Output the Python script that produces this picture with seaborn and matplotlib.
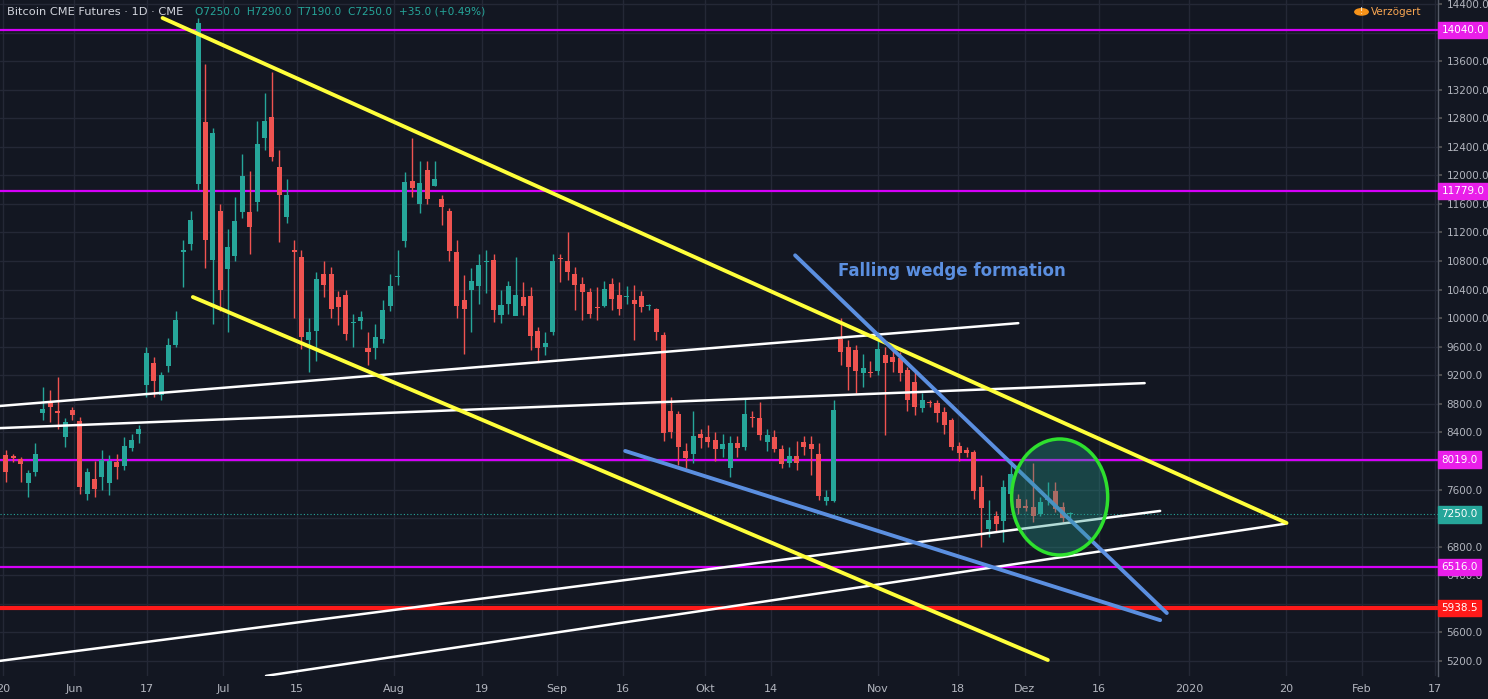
import numpy as np
import pandas as pd
import matplotlib
matplotlib.use("Agg")
import matplotlib.pyplot as plt
from matplotlib.patches import Ellipse
import seaborn as sns

# ---------------- data ----------------
opens = [8080,8070,8025,7690,7840,8670,8808,8700,8330,8710,8560,7535,7745,7770,7690,7985,7925,8180,8375,9060,
         9370,8920,9325,9620,10930,11045,11885,12750,10820,11505,10695,10875,11480,11480,11620,12530,12820,12120,11410,10950,
         10850,9700,9815,10625,10625,10290,10320,9930,9955,9575,9575,9715,10165,10580,11075,11925,11600,12080,11855,11675,
         11505,10920,10250,10400,10445,10780,10820,10040,10205,10025,10290,10305,9815,9590,9800,10840,10795,10625,10485,10360,
         10155,10165,10485,10330,10300,10260,10305,10165,10135,9760,8695,8655,8140,8095,8375,8335,8290,8165,7900,8250,
         8195,8615,8600,8265,8335,8165,7970,8070,8265,8235,8095,7440,7440,9705,9590,9550,9230,9245,9255,9480,
         9450,9435,9270,9100,8740,8815,8810,8685,8570,8210,8150,8125,7635,7045,7230,7160,7535,7465,7370,7355,
         7255,7460,7580,7355,7250]
closes = [7840,8040,7955,7830,8095,8730,8752,8670,8540,8640,7630,7845,7610,8010,7995,7915,8205,8290,8445,9505,
          9115,9210,9630,9980,10960,11380,14135,11100,12600,10390,10990,11365,11995,11280,12445,12765,12260,11730,11730,10930,
          9730,9800,10555,10460,10135,10150,9775,9950,10020,9520,9730,10120,10445,10590,11910,11825,11895,11675,11955,11560,
          10945,10165,10135,10515,10750,10790,10120,10190,10455,10330,10165,9745,9575,9645,10795,10830,10640,10460,10360,10065,
          10145,10415,10275,10135,10310,10205,10150,10180,9800,8390,8400,8190,8040,8345,8320,8265,8165,8235,8250,8180,
          8655,8605,8360,8360,8165,7955,8070,7970,8195,8165,7510,7495,8710,9520,9310,9255,9300,9235,9565,9370,
          9385,9225,8850,8750,8850,8805,8670,8500,8195,8110,8110,7580,7340,7170,7115,7635,7815,7340,7340,7230,
          7425,7470,7325,7200,7250]
highs = [8150,8100,8060,7880,8250,9030,9000,9170,8600,8760,8620,7900,8000,8150,8080,8100,8330,8380,8500,9600,
         9460,9250,9720,10100,11100,11500,14200,13560,12660,11600,11250,11700,12300,12060,12760,13160,13450,12350,11950,11100,
         10950,10000,10640,10800,10720,10380,10400,10060,10100,9800,9920,10250,10620,10950,12050,12520,12200,12200,12200,11720,
         11540,11100,10600,10700,10900,10960,10900,10400,10520,10850,10500,10440,9880,9800,10900,10900,11200,10720,10580,10420,
         10440,10520,10560,10500,10450,10470,10380,10200,10140,9800,8900,8700,8250,8700,8450,8500,8400,8380,8350,8350,
         8880,8700,8820,8450,8440,8230,8200,8280,8350,8350,8250,7600,8860,10000,9700,9620,9500,9400,9800,9600,
         9550,9520,9320,9250,8950,8860,8860,8750,8600,8260,8200,8160,7800,7450,7300,7730,8000,7540,7470,7970,
         7500,7700,7700,7420,7290]
lows = [7700,7990,7700,7490,7790,8580,8550,8450,8200,8580,7540,7450,7500,7600,7520,7750,7880,8140,8250,8900,
        8900,8850,9250,9600,10440,10950,11800,10700,9920,10100,9800,10800,11400,10900,11500,12350,12200,11060,11330,10000,
        9570,9250,9400,10300,10000,9900,9700,9600,9850,9350,9430,9650,10100,10470,11000,11700,11470,11600,11850,11300,
        10800,10000,9500,9800,10200,10350,9950,9930,10060,10100,10040,9550,9400,9480,9760,10500,10530,10120,9980,10000,
        9970,10150,10120,10050,10200,9700,10080,10120,9700,8280,8320,7950,7900,7970,8180,8200,8000,8050,7780,8050,
        8150,8470,8300,8140,8120,7900,7920,7880,8080,7800,7450,7380,7420,9350,9000,8950,9030,9180,9200,8370,
        9250,9120,8700,8650,8690,8750,8550,8380,8150,8000,8060,7470,6800,6930,7020,6870,7420,7250,7300,7150,
        7230,7380,7280,7150,7190]

price_ticks = list(range(5200, 14401, 400))
x_tick_labels = ["20", "Jun", "17", "Jul", "15", "Aug", "19", "Sep", "16", "Okt", "14",
                 "Nov", "18", "Dez", "16", "2020", "20", "Feb", "17"]
x_tick_pos = [-0.4, 9.2, 19.1, 29.4, 39.4, 52.5, 64.4, 74.6, 83.5, 94.6, 103.5,
              118, 128.8, 137.9, 147.9, 160.1, 173.2, 183.5, 193.4]

levels_magenta = [14040.0, 11779.0, 8019.0, 6516.0]
level_red = 5938.5
last_price = 7250.0

# trend lines: (x0, p0, x1, p1) in bar index / price
yellow_lines = [(21.2, 14204, 173.3, 7131), (25.3, 10296, 141.0, 5212)]
white_lines = [(-0.8, 8770, 137.0, 9930), (-0.8, 8460, 154.1, 9090),
               (-0.8, 5200, 156.2, 7300), (35.2, 4990, 173.1, 7120)]
blue_lines = [(106.8, 10880, 157.1, 5870), (83.8, 8140, 156.2, 5770)]

# ---------------- plotting ----------------
BG = "#131722"
GRID = "#242836"
TXT = "#b2b5be"
UP, DOWN = "#26a69a", "#ef5350"

sns.set_theme(style="dark", rc={"axes.facecolor": BG, "figure.facecolor": BG})
fig = plt.figure(figsize=(14.88, 6.99), dpi=100)
ax = fig.add_axes([0.0, 0.0329, 0.9664, 0.9671])
ax.set_facecolor(BG)

df = pd.DataFrame({"o": opens, "h": highs, "l": lows, "c": closes})
df["i"] = np.arange(len(df))
df["up"] = df["c"] >= df["o"]
df["col"] = np.where(df["up"], UP, DOWN)

ax.set_xlim(-0.8, 193.8)
ax.set_ylim(4988, 14456)

for p in price_ticks:
    ax.axhline(p, color=GRID, lw=1, zorder=0)
for xp in x_tick_pos:
    ax.axvline(xp, color=GRID, lw=1, zorder=0)

for lv in levels_magenta:
    ax.axhline(lv, color="#d500f9", lw=1.6, zorder=1)
ax.axhline(level_red, color="#ff1a1a", lw=3, zorder=1)
ax.axhline(last_price, color=UP, lw=0.8, ls=(0, (1, 2)), zorder=1)

# candles
ax.vlines(df["i"], df["l"], df["h"], colors=df["col"], lw=1, zorder=3)
body_h = (df["c"] - df["o"]).abs().clip(lower=15)
ax.bar(df["i"], body_h, bottom=df[["o", "c"]].min(axis=1), width=0.68,
       color=df["col"], zorder=4, linewidth=0)

def draw(lines, color, lw):
    for x0, p0, x1, p1 in lines:
        seg = pd.DataFrame({"x": [x0, x1], "y": [p0, p1]})
        sns.lineplot(data=seg, x="x", y="y", ax=ax, color=color, lw=lw, zorder=5,
                     solid_capstyle="round")

draw(white_lines, "white", 1.8)
draw(yellow_lines, "#ffff3b", 2.8)
draw(blue_lines, "#5b8fe0", 2.8)

ell = Ellipse((142.6, 7495), 13.0, 1625, facecolor=(0.15, 0.6, 0.55, 0.35),
              edgecolor="#2ee02e", lw=2.5, zorder=6)
ax.add_patch(ell)

ax.text(128, 10660, "Falling wedge formation", color="#5b8fe0", fontsize=12,
        fontweight="bold", ha="center", va="center", zorder=7)

# axes
ax.set_xlabel("")
ax.set_ylabel("")
ax.set_xticks(x_tick_pos)
ax.set_xticklabels(x_tick_labels, color=TXT, fontsize=8)
ax.yaxis.tick_right()
ax.set_yticks(price_ticks)
ax.set_yticklabels([f"{p:.1f}" for p in price_ticks], color=TXT, fontsize=7.5)
ax.tick_params(axis="both", length=3, color="#555", pad=3)
for s in ["top", "left", "bottom"]:
    ax.spines[s].set_visible(False)
ax.spines["right"].set_color("#555a66")
ax.spines["right"].set_linewidth(1)

# price tags on axis
tag_items = [(v, "#e91ee9") for v in levels_magenta] + [(level_red, "#ff1a1a"), (last_price, UP)]
for v, c in tag_items:
    ax.text(1.0025, v, f"{v:.1f}", transform=ax.get_yaxis_transform(), color="white",
            fontsize=7.5, va="center", ha="left", zorder=10,
            bbox=dict(boxstyle="square,pad=0.3", fc=c, ec=c), clip_on=False)

# header
fig.text(0.005, 0.983, "Bitcoin CME Futures · 1D · CME", color="#d1d4dc", fontsize=8.2, va="center")
fig.text(0.131, 0.983, "O7250.0  H7290.0  T7190.0  C7250.0  +35.0 (+0.49%)", color=UP,
         fontsize=7.6, va="center")
fig.text(0.9215, 0.983, "Verzögert", color="#f7a552", fontsize=7.5, va="center")
fig.patches.append(plt.Circle((0.915, 0.983), 0.0045, transform=fig.transFigure,
                              color="#f7931a", figure=fig))
fig.text(0.915, 0.983, "!", color="white", fontsize=6, ha="center", va="center")

fig.savefig("out.png", dpi=100, facecolor=BG)
